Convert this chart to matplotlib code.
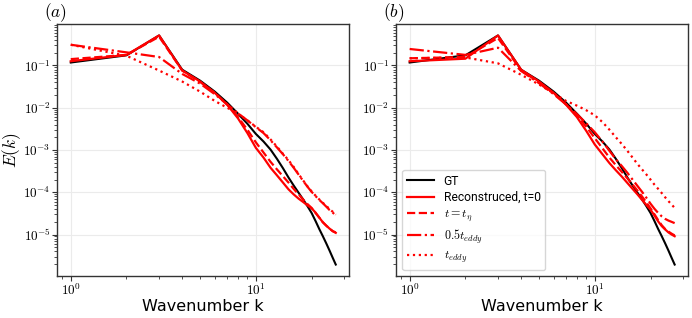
import numpy as np
import matplotlib
matplotlib.use("Agg")
import matplotlib.pyplot as plt
from matplotlib.ticker import FuncFormatter, NullFormatter, LogLocator

plt.rcParams['mathtext.fontset'] = 'cm'
plt.rcParams['font.family'] = ['DejaVu Sans']

# Wavenumbers
k = list(range(1, 28))

# log10 E(k) values
gt_log = [-0.93, -0.76, -0.29, -1.10, -1.36, -1.62, -1.88, -2.14, -2.38, -2.62,
          -2.80, -2.99, -3.21, -3.43, -3.65, -3.84, -4.01, -4.17, -4.33, -4.49,
          -4.68, -4.87, -5.04, -5.21, -5.38, -5.55, -5.71]

# Panel (a)
a_rec_log = [-0.90, -0.75, -0.29, -1.12, -1.38, -1.65, -1.93, -2.25, -2.60, -2.95,
             -3.18, -3.42, -3.60, -3.77, -3.93, -4.05, -4.15, -4.23, -4.31, -4.38,
             -4.48, -4.60, -4.71, -4.79, -4.86, -4.92, -4.96]
a_eta_log = [-0.85, -0.75, -0.32, -1.12, -1.39, -1.65, -1.92, -2.22, -2.52, -2.82,
             -3.06, -3.28, -3.46, -3.62, -3.77, -3.92, -4.05, -4.17, -4.28, -4.37,
             -4.49, -4.60, -4.71, -4.79, -4.86, -4.92, -4.95]
a_half_log = [-0.51, -0.69, -0.80, -1.20, -1.43, -1.68, -1.92, -2.13, -2.30, -2.46,
              -2.60, -2.77, -2.94, -3.10, -3.26, -3.42, -3.58, -3.73, -3.87, -3.99,
              -4.09, -4.18, -4.26, -4.34, -4.42, -4.48, -4.55]
a_eddy_log = [-0.51, -0.77, -1.12, -1.38, -1.62, -1.84, -2.00, -2.14, -2.30, -2.45,
              -2.58, -2.75, -2.92, -3.09, -3.24, -3.40, -3.57, -3.72, -3.86, -3.98,
              -4.08, -4.17, -4.25, -4.32, -4.40, -4.46, -4.53]

# Panel (b)
b_rec_log = [-0.90, -0.84, -0.29, -1.10, -1.38, -1.65, -1.93, -2.22, -2.55, -2.87,
             -3.10, -3.31, -3.48, -3.63, -3.78, -3.92, -4.05, -4.18, -4.30, -4.41,
             -4.55, -4.69, -4.80, -4.88, -4.95, -5.00, -5.04]
b_eta_log = [-0.83, -0.80, -0.35, -1.12, -1.40, -1.66, -1.92, -2.18, -2.45, -2.72,
             -2.96, -3.18, -3.36, -3.52, -3.67, -3.82, -3.96, -4.10, -4.24, -4.38,
             -4.52, -4.66, -4.78, -4.87, -4.93, -4.98, -5.02]
b_half_log = [-0.61, -0.75, -0.58, -1.13, -1.42, -1.68, -1.92, -2.15, -2.37, -2.58,
              -2.80, -3.02, -3.22, -3.38, -3.54, -3.70, -3.85, -3.99, -4.13, -4.27,
              -4.39, -4.49, -4.57, -4.63, -4.67, -4.70, -4.73]
b_eddy_log = [-0.83, -0.81, -0.95, -1.22, -1.45, -1.66, -1.84, -1.95, -2.06, -2.18,
              -2.34, -2.52, -2.70, -2.86, -3.02, -3.18, -3.33, -3.46, -3.58, -3.70,
              -3.82, -3.92, -4.02, -4.12, -4.21, -4.29, -4.37]

labels = ['GT', 'Reconstruced, t=0', r'$t=t_\eta$', r'$0.5t_{eddy}$', r'$t_{eddy}$']
panel_titles = [r'$(a)$', r'$(b)$']


def pow10(v, pos):
    if v <= 0:
        return ''
    e = int(np.round(np.log10(v)))
    return r'$10^{%d}$' % e


fig = plt.figure(figsize=(6.92, 3.18), dpi=100)
ax1 = fig.add_axes([57.5/692, 42/318, 291.5/692, 252/318])
ax2 = fig.add_axes([396.4/692, 42/318, 291.5/692, 252/318])

panels = [
    (ax1, a_rec_log, a_eta_log, a_half_log, a_eddy_log),
    (ax2, b_rec_log, b_eta_log, b_half_log, b_eddy_log),
]

for i, (ax, rec, eta, half, eddy) in enumerate(panels):
    kk = np.array(k)
    ax.plot(kk, 10**np.array(gt_log), color='black', lw=1.5, label=labels[0])
    ax.plot(kk, 10**np.array(rec), color='red', lw=1.6, ls='-', label=labels[1])
    ax.plot(kk, 10**np.array(eta), color='red', lw=1.6, ls='--', label=labels[2])
    ax.plot(kk, 10**np.array(half), color='red', lw=1.6, ls='-.', label=labels[3])
    ax.plot(kk, 10**np.array(eddy), color='red', lw=1.6, ls=':', label=labels[4])
    ax.set_xscale('log')
    ax.set_yscale('log')
    ax.yaxis.set_major_locator(LogLocator(base=10, numticks=10))
    ax.yaxis.set_minor_locator(LogLocator(base=10, subs=np.arange(2, 10), numticks=20))
    for axis in (ax.xaxis, ax.yaxis):
        axis.set_major_formatter(FuncFormatter(pow10))
        axis.set_minor_formatter(NullFormatter())
    ax.grid(True, which='major', color='#ebebeb', lw=0.8)
    ax.set_axisbelow(True)
    for s in ax.spines.values():
        s.set_color('#333333')
        s.set_linewidth(1.0)
    ax.tick_params(which='both', labelsize=9.5, color='#333333', pad=1.5)
    ax.tick_params(axis='x', which='both', pad=1.0)
    ax.set_xlabel('Wavenumber k', fontsize=11.5, va='top')
    ax.xaxis.set_label_coords(0.5, -0.09)
    ax.set_title(panel_titles[i], loc='left', fontsize=12.5, x=-0.045, pad=2)

ax1.set_ylabel(r'$E(k)$', fontsize=12.5)
ax1.yaxis.set_label_coords(-0.12, 0.5)
ax2.legend(loc='lower left', prop={'family': 'Roboto', 'size': 8.7},
           framealpha=0.8, edgecolor='#cccccc',
           handlelength=2.2, borderaxespad=0.5, labelspacing=0.28)

fig.savefig('out.png', dpi=100)
